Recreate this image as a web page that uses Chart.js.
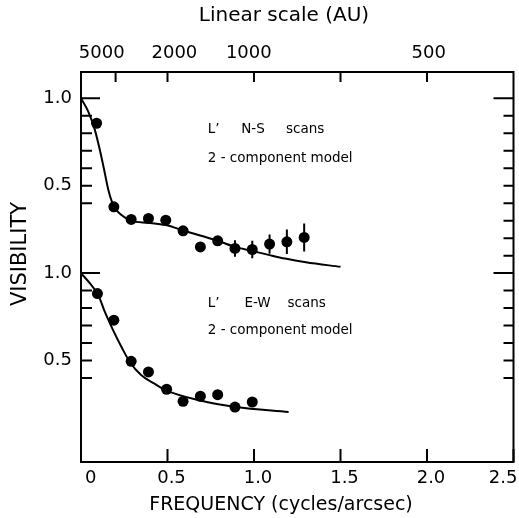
<!DOCTYPE html>
<html>
<head>
<meta charset="utf-8">
<script src="https://cdn.jsdelivr.net/npm/chart.js@4.4.1/dist/chart.umd.min.js"></script>
<style>
    html, body { margin: 0; padding: 0; background: #fff; }
    canvas { display: block; }
</style>
</head>
<body>
<canvas id="chart" width="519" height="518"></canvas>
<script>
// N-S scans (upper panel)
const nsFreq = [0.09, 0.19, 0.29, 0.39, 0.49, 0.59, 0.69, 0.79, 0.89, 0.99, 1.09, 1.19, 1.29];
const nsVis = [0.857, 0.379, 0.307, 0.313, 0.303, 0.242, 0.15, 0.185, 0.141, 0.135, 0.166, 0.179, 0.204];
const nsErr = [0, 0, 0, 0, 0, 0, 0, 0, 0.047, 0.05, 0.055, 0.07, 0.08];
const nsModelFreq = [0, 0.042, 0.08, 0.109, 0.134, 0.157, 0.18, 0.205, 0.234, 0.29, 0.39, 0.49, 0.597, 0.79, 0.89, 0.985, 1.09, 1.18, 1.3, 1.5];
const nsModelVis = [1.0, 0.924, 0.819, 0.704, 0.59, 0.48, 0.405, 0.36, 0.332, 0.299, 0.288, 0.275, 0.242, 0.185, 0.15, 0.128, 0.103, 0.083, 0.062, 0.036];

// E-W scans (lower panel)
const ewFreq = [0.095, 0.19, 0.29, 0.39, 0.495, 0.59, 0.69, 0.79, 0.89, 0.99];
const ewVis = [0.883, 0.731, 0.496, 0.435, 0.336, 0.267, 0.296, 0.305, 0.234, 0.263];
const ewModelFreq = [0, 0.052, 0.1, 0.138, 0.186, 0.234, 0.282, 0.349, 0.425, 0.492, 0.684, 0.895, 1.2];
const ewModelVis = [1.0, 0.941, 0.874, 0.778, 0.673, 0.578, 0.492, 0.416, 0.368, 0.33, 0.273, 0.234, 0.206];

// the upper panel sits 1.0 higher on the shared visibility axis
const PANEL_OFFSET = 1.0;

// axis ticks
const freqTicks = [0, 0.5, 1.0, 1.5, 2.0, 2.5];
const freqLabels = ["0", "0.5", "1.0", "1.5", "2.0", "2.5"];
const auTickFreq = [0.2, 0.5, 1.0, 1.5, 2.0];
// the AU numbers are printed a little off their tick marks in the original
const auLabelFreq = [0.12, 0.54, 0.97, 2.01];
const auLabels = ["5000", "2000", "1000", "500"];
const visTicks = [0.5, 1.0, 1.5, 2.0];
const visLabels = ["0.5", "1.0", "0.5", "1.0"];
const leftMajor = [1.0, 2.0];
const leftMinor = [0.4, 0.5, 0.6, 0.7, 0.8, 0.9, 1.4, 1.5, 1.6, 1.7, 1.8, 1.9];
const rightMajor = [1.0, 2.0];
const rightMinor = [0.4, 0.5, 0.6, 0.7, 0.8, 0.9, 1.1, 1.2, 1.3, 1.4, 1.5, 1.6, 1.7, 1.8, 1.9];

const notes = [
    { text: "L\u2019", f: 0.733, v: 1.799 },
    { text: "N-S", f: 0.926, v: 1.799 },
    { text: "scans", f: 1.185, v: 1.799 },
    { text: "2 - component model", f: 0.733, v: 1.637 },
    { text: "L\u2019", f: 0.733, v: 0.807 },
    { text: "E-W", f: 0.945, v: 0.807 },
    { text: "scans", f: 1.194, v: 0.807 },
    { text: "2 - component model", f: 0.733, v: 0.654 },
];

const FONT = "DejaVu Sans";
Chart.defaults.font.family = FONT;
Chart.defaults.color = "#000";

function pts(xs, ys, off) {
    return xs.map((x, i) => ({ x: x, y: ys[i] + off }));
}

// frame, inward ticks, error bars, captions and axis titles
const figureExtras = {
    id: "figureExtras",
    afterDatasetsDraw(chart) {
        const { ctx, chartArea: a } = chart;
        const xs = chart.scales.x, ys = chart.scales.y;
        ctx.save();
        ctx.strokeStyle = "#000";
        ctx.lineWidth = 2;

        ctx.beginPath();
        nsFreq.forEach((f, i) => {
            if (!nsErr[i]) return;
            const px = xs.getPixelForValue(f);
            ctx.moveTo(px, ys.getPixelForValue(nsVis[i] + PANEL_OFFSET + nsErr[i]));
            ctx.lineTo(px, ys.getPixelForValue(nsVis[i] + PANEL_OFFSET - nsErr[i]));
        });
        ctx.stroke();

        ctx.strokeRect(a.left, a.top, a.right - a.left, a.bottom - a.top);

        ctx.beginPath();
        const hTick = (list, side, len) => list.forEach(v => {
            const py = ys.getPixelForValue(v);
            const x0 = side === "left" ? a.left : a.right;
            ctx.moveTo(x0, py);
            ctx.lineTo(side === "left" ? x0 + len : x0 - len, py);
        });
        hTick(leftMajor, "left", 19);
        hTick(leftMinor, "left", 11);
        hTick(rightMajor, "right", 20);
        hTick(rightMinor, "right", 10);
        freqTicks.forEach(v => {
            const px = xs.getPixelForValue(v);
            ctx.moveTo(px, a.bottom);
            ctx.lineTo(px, a.bottom - 13);
        });
        auTickFreq.forEach(v => {
            const px = xs.getPixelForValue(v);
            ctx.moveTo(px, a.top);
            ctx.lineTo(px, a.top + 10);
        });
        ctx.stroke();

        ctx.fillStyle = "#000";
        ctx.textBaseline = "alphabetic";
        ctx.textAlign = "left";
        ctx.font = "13.5px '" + FONT + "'";
        notes.forEach(n => {
            ctx.fillText(n.text, xs.getPixelForValue(n.f), ys.getPixelForValue(n.v));
        });

        ctx.textAlign = "center";
        ctx.textBaseline = "middle";
        ctx.font = "20px '" + FONT + "'";
        ctx.fillText("Linear scale (AU)", 284, 16);
        ctx.font = "19px '" + FONT + "'";
        ctx.fillText("FREQUENCY (cycles/arcsec)", 281, 505);
        ctx.translate(21, 254);
        ctx.rotate(-Math.PI / 2);
        ctx.font = "21px '" + FONT + "'";
        ctx.fillText("VISIBILITY", 0, 0);
        ctx.restore();
    }
};

const chart = new Chart(document.getElementById("chart"), {
    type: "scatter",
    data: {
        datasets: [
            {
                data: pts(nsModelFreq, nsModelVis, PANEL_OFFSET),
                showLine: true, borderColor: "#000", borderWidth: 2,
                pointRadius: 0, cubicInterpolationMode: "monotone",
            },
            {
                data: pts(ewModelFreq, ewModelVis, 0),
                showLine: true, borderColor: "#000", borderWidth: 2,
                pointRadius: 0, cubicInterpolationMode: "monotone",
            },
            {
                data: pts(nsFreq, nsVis, PANEL_OFFSET),
                pointRadius: 5.5, backgroundColor: "#000", borderWidth: 0,
            },
            {
                data: pts(ewFreq, ewVis, 0),
                pointRadius: 5.5, backgroundColor: "#000", borderWidth: 0,
            },
        ],
    },
    options: {
        responsive: false,
        animation: false,
        devicePixelRatio: 1,
        layout: { padding: { left: 0, right: 4, top: 0, bottom: 0 } },
        plugins: { legend: { display: false }, tooltip: { enabled: false } },
        scales: {
            x: {
                type: "linear", position: "bottom", min: 0, max: 2.5,
                grid: { display: false, drawTicks: false },
                border: { display: false },
                afterBuildTicks: s => { s.ticks = freqTicks.map(v => ({ value: v })); },
                afterFit: s => { s.height = 56; s.paddingLeft = 0; s.paddingRight = 0; },
                ticks: {
                    padding: 6, labelOffset: 4, align: "inner", autoSkip: false, maxRotation: 0,
                    font: { size: 18 },
                    callback: (v, i) => freqLabels[i],
                },
            },
            x2: {
                type: "linear", position: "top", min: 0, max: 2.5,
                grid: { display: false, drawTicks: false },
                border: { display: false },
                afterBuildTicks: s => { s.ticks = auLabelFreq.map(v => ({ value: v })); },
                afterFit: s => { s.height = 72; s.paddingLeft = 0; s.paddingRight = 0; },
                ticks: {
                    padding: 8, autoSkip: false, maxRotation: 0,
                    font: { size: 18 },
                    callback: (v, i) => auLabels[i],
                },
            },
            y: {
                type: "linear", position: "left", min: -0.08, max: 2.15,
                grid: { display: false, drawTicks: false },
                border: { display: false },
                afterBuildTicks: s => { s.ticks = visTicks.map(v => ({ value: v })); },
                afterFit: s => { s.width = 81; s.paddingTop = 0; s.paddingBottom = 0; },
                ticks: {
                    padding: 9, autoSkip: false,
                    font: { size: 18 },
                    callback: (v, i) => visLabels[i],
                },
            },
        },
    },
    plugins: [figureExtras],
});
</script>
</body>
</html>
